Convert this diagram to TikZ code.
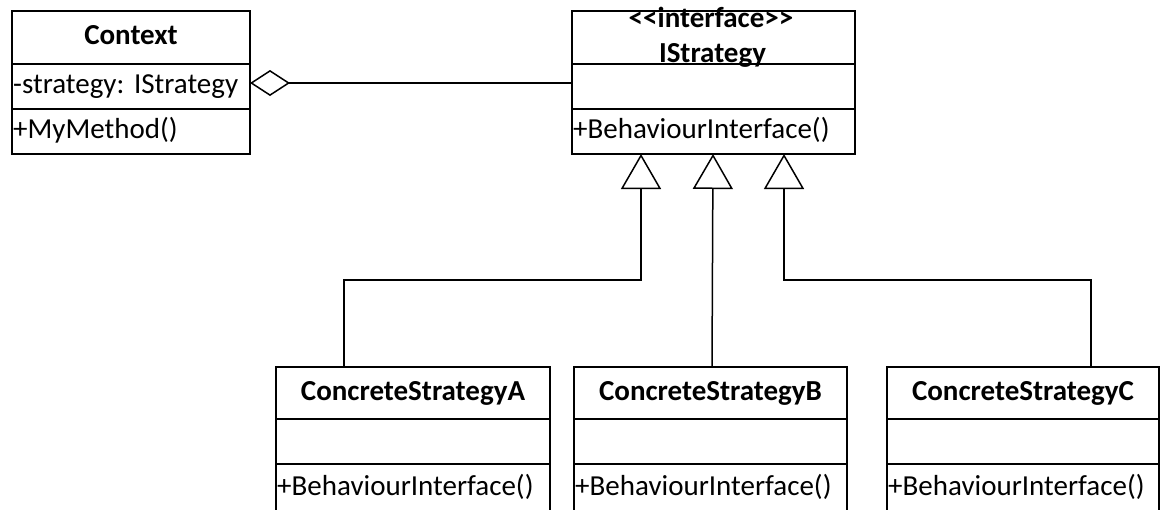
\documentclass[tikz,border=0pt]{standalone}
\usepackage{fontspec}
\setmainfont{Carlito}
\usetikzlibrary{arrows.meta,calc}
\begin{document}
\frenchspacing
\begin{tikzpicture}[x=1pt,y=-1pt,
  every node/.style={inner sep=0pt, outer sep=0pt},
  cls/.style={draw=black, line width=1.5pt, rectangle, anchor=north west,
    text height=19pt, text depth=5pt, font=\fontsize{29}{35}\selectfont\frenchspacing},
  ttl/.style={cls, font=\bfseries\fontsize{29}{35}\selectfont},
  cmp/.style={cls, align=left, inner xsep=1.2pt},
  lbl/.style={anchor=base, font=\bfseries\fontsize{29}{35}\selectfont},
  inh/.style={draw=black, line width=1.5pt, -{Triangle[open, length=35pt, width=40pt]}},
  agg/.style={draw=black, line width=1.5pt, -{Diamond[open, length=40pt, width=26pt]}}]
\useasboundingbox (0,0) rectangle (1161,509);
% Context
\node[ttl, minimum width=238pt, minimum height=53pt] (ctxT) at (12,11) {Context};
\node[cmp, text width=235.6pt, minimum height=45pt] (ctxA) at (ctxT.south west) {-strategy: IStrategy};
\node[cmp, text width=235.6pt, minimum height=45pt] (ctxM) at (ctxA.south west) {+MyMethod()};
% IStrategy
\node[ttl, minimum width=283pt, minimum height=53pt] (isT) at (572,11) {};
\node[lbl] (isS) at (711,27) {<\kern0pt<interface>\kern0pt>};
\node[lbl] (isN) at (712.5,62) {IStrategy};
\node[cls, minimum width=283pt, minimum height=45pt] (isA) at (isT.south west) {};
\node[cmp, text width=280.6pt, minimum height=45pt] (isM) at (isA.south west) {+BehaviourInterface()};
% ConcreteStrategyA
\node[ttl, minimum width=274pt, minimum height=52pt] (aT) at (276,367) {ConcreteStrategyA};
\node[cls, minimum width=274pt, minimum height=45pt] (aA) at (aT.south west) {};
\node[cmp, text width=271.6pt, minimum height=48pt] (aM) at (aA.south west) {+BehaviourInterface()};
% ConcreteStrategyB
\node[ttl, minimum width=273pt, minimum height=52pt] (bT) at (574,367) {ConcreteStrategyB};
\node[cls, minimum width=273pt, minimum height=45pt] (bA) at (bT.south west) {};
\node[cmp, text width=270.6pt, minimum height=48pt] (bM) at (bA.south west) {+BehaviourInterface()};
% ConcreteStrategyC
\node[ttl, minimum width=272pt, minimum height=52pt] (cT) at (887,367) {ConcreteStrategyC};
\node[cls, minimum width=272pt, minimum height=45pt] (cA) at (cT.south west) {};
\node[cmp, text width=269.6pt, minimum height=48pt] (cM) at (cA.south west) {+BehaviourInterface()};
% connectors
\draw[agg] ([yshift=3.5pt]isA.west) -- ([yshift=3.5pt]ctxA.east);
\draw[inh] ([xshift=68pt]aT.north west) -- ++(0,-87) -| ([xshift=69pt]isM.south west);
\draw[inh] ([xshift=138pt]bT.north west) -- ([xshift=141pt]isM.south west);
\draw[inh] ([xshift=204pt]cT.north west) -- ++(0,-87) -| ([xshift=212pt]isM.south west);
\end{tikzpicture}
\end{document}
